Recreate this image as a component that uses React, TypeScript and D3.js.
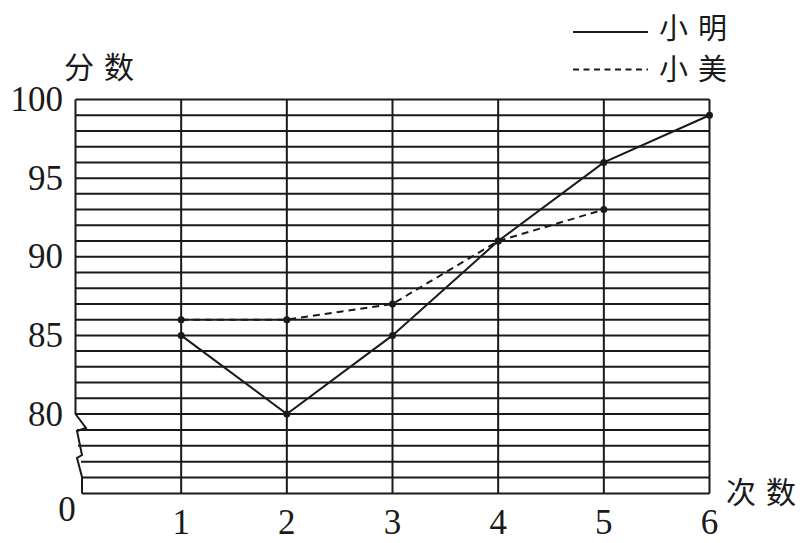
import React from "react";
import * as d3 from "d3";

const attempts = [1, 2, 3, 4, 5, 6];
const xiaoMing = [85, 80, 85, 91, 96, 99];
const xiaoMei = [86, 86, 87, 91, 93];
const yTickLabels = [80, 85, 90, 95, 100];
const seriesNames = ["小明", "小美"];

const W = 810;
const H = 543;
const INK = "#1a1a1a";
const NUM_FONT = "'Liberation Serif', 'DejaVu Serif', serif";
const CJK_FONT = "'Noto Sans CJK SC', sans-serif";

export default function App() {
  const x = d3.scaleLinear().domain([0, 6]).range([75.5, 709.5]);
  // broken axis: 0..80 compressed into 5 grid bands
  const y = d3.scaleLinear().domain([0, 80, 100]).range([493.5, 414, 99.5]);

  const upperGrid = d3.range(80, 101, 1);
  const lowerGrid = [16, 32, 48, 64];
  // start x of the lower grid lines (follow the zigzag)
  const lowerStart = [82, 81, 78, 77];

  const line = d3
    .line<[number, number]>()
    .x((d) => x(d[0]))
    .y((d) => y(d[1]));

  const mingPts: [number, number][] = xiaoMing.map((v, i) => [attempts[i], v]);
  const meiPts: [number, number][] = xiaoMei.map((v, i) => [attempts[i], v]);

  const x0 = x(0);
  const zig: [number, number][] = [
    [x0, y(100)],
    [x0, y(80)],
    [x0 + 10.5, y(80) + 14],
    [x0 + 1.5, y(80) + 17],
    [x0 + 6.5, y(80) + 41],
    [x0 + 1.5, y(80) + 44],
    [x0 + 6.5, y(80) + 63],
    [x0 + 6.5, y(0)],
  ];
  const zigPath = d3.line()(zig) || "";

  return (
    <svg
      width={W}
      height={H}
      style={{ position: "absolute", left: 0, top: 0, background: "#fff" }}
    >
      <rect x={0} y={0} width={W} height={H} fill="#fff" />
      {upperGrid.map((v) => (
        <line key={"u" + v} x1={x0} x2={x(6)} y1={y(v)} y2={y(v)} stroke={INK} strokeWidth={2} />
      ))}
      {lowerGrid.map((v, i) => (
        <line key={"l" + v} x1={lowerStart[i]} x2={x(6)} y1={y(v)} y2={y(v)} stroke={INK} strokeWidth={2} />
      ))}
      <line x1={x0 + 6.5} x2={x(6)} y1={y(0)} y2={y(0)} stroke={INK} strokeWidth={2} />
      {attempts.map((a) => (
        <line key={"v" + a} x1={x(a)} x2={x(a)} y1={y(100)} y2={y(0)} stroke={INK} strokeWidth={2} />
      ))}
      <path d={zigPath} fill="none" stroke={INK} strokeWidth={2} strokeLinejoin="miter" />

      <path d={line(meiPts) || ""} fill="none" stroke={INK} strokeWidth={2} strokeDasharray="7,5" />
      <path d={line(mingPts) || ""} fill="none" stroke={INK} strokeWidth={2} />
      {mingPts.map((p, i) => (
        <circle key={"m" + i} cx={x(p[0])} cy={y(p[1])} r={3.5} fill={INK} />
      ))}
      {meiPts.map((p, i) => (
        <circle key={"f" + i} cx={x(p[0])} cy={y(p[1])} r={3.5} fill={INK} />
      ))}

      {yTickLabels.map((v) => (
        <text key={"yt" + v} x={63} y={y(v)} textAnchor="end" dominantBaseline="central"
          fontFamily={NUM_FONT} fontSize={35} fill={INK}>
          {v}
        </text>
      ))}
      <text x={67} y={509} textAnchor="middle" dominantBaseline="central" fontFamily={NUM_FONT} fontSize={35} fill={INK}>
        0
      </text>
      {attempts.map((a) => (
        <text key={"xt" + a} x={x(a)} y={522} textAnchor="middle" dominantBaseline="central"
          fontFamily={NUM_FONT} fontSize={35} fill={INK}>
          {a}
        </text>
      ))}

      <text x={64} y={65} dominantBaseline="central" fontFamily={CJK_FONT} fontSize={30} letterSpacing={10} fill={INK}>
        分数
      </text>
      <text x={726} y={490} dominantBaseline="central" fontFamily={CJK_FONT} fontSize={30} letterSpacing={10} fill={INK}>
        次数
      </text>

      <line x1={573} x2={648} y1={32} y2={32} stroke={INK} strokeWidth={2} />
      <text x={659} y={26} dominantBaseline="central" fontFamily={CJK_FONT} fontSize={29} letterSpacing={10} fill={INK}>
        {seriesNames[0]}
      </text>
      <line x1={573} x2={648} y1={69.5} y2={69.5} stroke={INK} strokeWidth={2} strokeDasharray="6,4.5" />
      <text x={659} y={67} dominantBaseline="central" fontFamily={CJK_FONT} fontSize={29} letterSpacing={10} fill={INK}>
        {seriesNames[1]}
      </text>
    </svg>
  );
}
